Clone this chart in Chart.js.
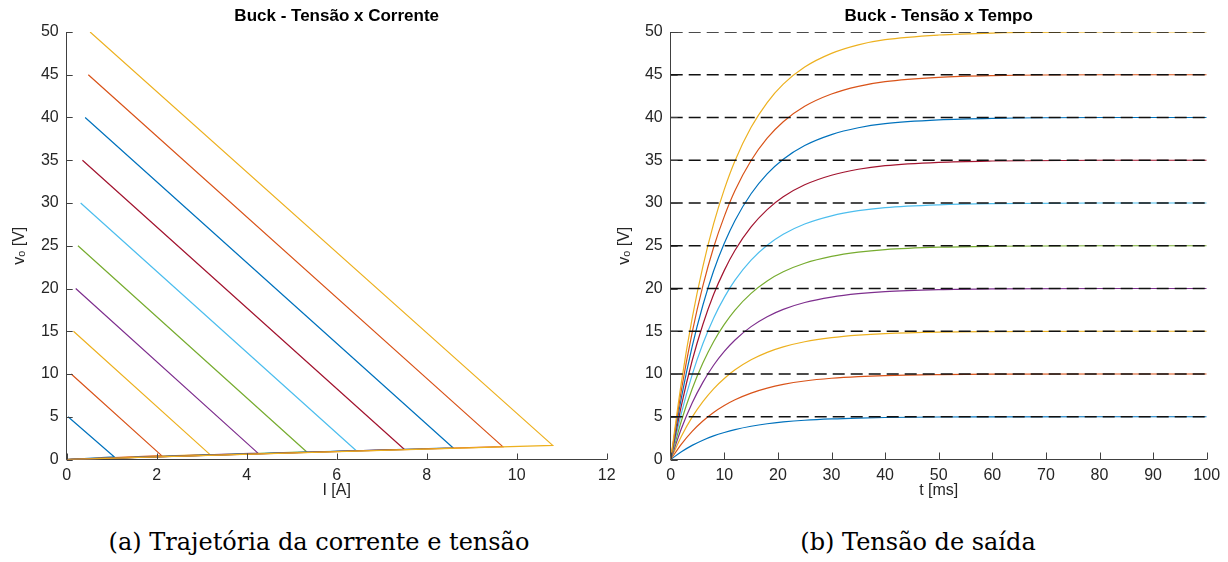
<!DOCTYPE html>
<html>
<head>
<meta charset="utf-8">
<script src="https://cdn.jsdelivr.net/npm/chart.js@4"></script>
<style>
  body { margin: 0; background: #fff; width: 1228px; height: 562px; position: relative; overflow: hidden; }
  .box { position: absolute; top: 0; height: 510px; }
  .cap { position: absolute; top: 528px; font: 24px "DejaVu Serif", serif; color: #000; text-align: center; width: 614px; }
</style>
</head>
<body>
<div class="box" style="left:0"><canvas id="chartIV" width="620" height="510"></canvas></div>
<div class="box" style="left:614px"><canvas id="chartVT" width="614" height="510"></canvas></div>
<div class="cap" style="left:12px">(a) Trajetória da corrente e tensão</div>
<div class="cap" style="left:611px">(b) Tensão de saída</div>
<script>
// referencias de tensao (V)
const levels = [5, 10, 15, 20, 25, 30, 35, 40, 45, 50];
// corrente no fim da trajetoria (em regime) e pico de corrente (a)
const iFinal = [0.03, 0.10, 0.15, 0.20, 0.25, 0.31, 0.35, 0.41, 0.48, 0.52];
const iPeak  = [1.06, 2.11, 3.18, 4.25, 5.33, 6.43, 7.50, 8.59, 9.69, 10.80];
const vPeak  = [0.30, 0.45, 0.60, 0.75, 0.90, 1.05, 1.20, 1.35, 1.50, 1.65];

// tempo (ms) e tensao de saida (b)
const tMs = [0, 2, 4, 6, 8, 10, 12, 15, 18, 21, 25, 30, 35, 40, 50, 60, 80, 100];
const vo5  = [0, 0.90, 1.65, 2.26, 2.76, 3.16, 3.50, 3.89, 4.18, 4.39, 4.59, 4.75, 4.85, 4.91, 4.97, 4.99, 5, 5];
const vo10 = [0, 1.81, 3.30, 4.51, 5.51, 6.32, 6.99, 7.77, 8.35, 8.78, 9.18, 9.50, 9.70, 9.82, 9.93, 9.98, 10, 10];
const vo15 = [0, 2.72, 4.95, 6.77, 8.27, 9.48, 10.49, 11.66, 12.53, 13.17, 13.77, 14.25, 14.55, 14.73, 14.90, 14.96, 15, 15];
const vo20 = [0, 3.62, 6.60, 9.02, 11.02, 12.64, 13.98, 15.54, 16.70, 17.56, 18.36, 19.00, 19.40, 19.64, 19.86, 19.95, 20, 20];
const vo25 = [0, 4.53, 8.25, 11.28, 13.78, 15.80, 17.48, 19.43, 20.88, 21.95, 22.95, 23.75, 24.25, 24.55, 24.83, 24.94, 25, 25];
const vo30 = [0, 5.43, 9.90, 13.53, 16.53, 18.96, 20.97, 23.31, 25.05, 26.34, 27.54, 28.50, 29.10, 29.46, 29.79, 29.93, 30, 30];
const vo35 = [0, 6.34, 11.55, 15.79, 19.29, 22.12, 24.47, 27.20, 29.23, 30.73, 32.13, 33.25, 33.95, 34.37, 34.76, 34.91, 35, 35];
const vo40 = [0, 7.24, 13.20, 18.04, 22.04, 25.28, 27.96, 31.08, 33.40, 35.12, 36.72, 38.00, 38.80, 39.28, 39.72, 39.90, 40, 40];
const vo45 = [0, 8.15, 14.85, 20.30, 24.80, 28.44, 31.46, 34.97, 37.58, 39.51, 41.31, 42.75, 43.65, 44.19, 44.69, 44.89, 45, 45];
const vo50 = [0, 9.05, 16.50, 22.55, 27.55, 31.60, 34.95, 38.85, 41.75, 43.90, 45.90, 47.50, 48.50, 49.10, 49.65, 49.88, 50, 50];
const voutAll = [vo5, vo10, vo15, vo20, vo25, vo30, vo35, vo40, vo45, vo50];

const cores = ['#0072BD', '#D95319', '#EDB120', '#7E2F8E', '#77AC30', '#4DBEEE', '#A2142F', '#0072BD', '#D95319', '#EDB120'];
const txt = '#262626';
const fam = '"Liberation Sans", Arial, sans-serif';

// ticks para dentro, estilo matlab
function innerTicks(len) {
    return {
        id: 'innerTicks',
        afterDatasetsDraw(chart) {
            const c = chart.ctx, a = chart.chartArea;
            c.save();
            c.strokeStyle = '#404040';
            c.lineWidth = 1;
            c.beginPath();
            chart.scales.x.ticks.forEach(t => {
                const px = Math.round(chart.scales.x.getPixelForValue(t.value)) + 0.5;
                c.moveTo(px, a.bottom);
                c.lineTo(px, a.bottom - len);
            });
            chart.scales.y.ticks.forEach(t => {
                const py = Math.round(chart.scales.y.getPixelForValue(t.value)) + 0.5;
                c.moveTo(a.left, py);
                c.lineTo(a.left + len, py);
            });
            c.stroke();
            c.restore();
        }
    };
}

function eixos(xMax, xStep, xTitle, yWidth, yTitlePad) {
    return {
        x: {
            type: 'linear', min: 0, max: xMax,
            ticks: { stepSize: xStep, color: txt, padding: 6, font: { family: fam, size: 16 } },
            grid: { drawOnChartArea: false, drawTicks: false },
            border: { color: '#404040', width: 1 },
            title: { display: true, text: xTitle, color: txt, font: { family: fam, size: 16 }, padding: { top: 0, bottom: 9.4 } },
            afterFit: s => { s.height = 50.5; s.paddingLeft = 0; s.paddingRight = 0; }
        },
        y: {
            type: 'linear', min: 0, max: 50,
            ticks: { stepSize: 5, color: txt, padding: 8, font: { family: fam, size: 16 } },
            grid: { drawOnChartArea: false, drawTicks: false },
            border: { color: '#404040', width: 1 },
            title: { display: true, text: 'vₒ [V]', color: txt, font: { family: fam, size: 16 }, padding: { top: yTitlePad, bottom: 0 } },
            afterFit: s => { s.width = yWidth; s.paddingTop = 0; s.paddingBottom = 0; }
        }
    };
}

function titulo(texto) {
    return {
        display: true, text: texto, color: '#000', fullSize: false,
        font: { family: fam, size: 17, weight: 'bold' },
        padding: { top: 6, bottom: 5.6 }
    };
}

// grafico (a): trajetoria corrente x tensao
new Chart(document.getElementById('chartIV'), {
    type: 'line',
    data: {
        datasets: levels.map((v, k) => ({
            data: [{ x: 0, y: 0 }, { x: iPeak[k], y: vPeak[k] }, { x: iFinal[k], y: v }],
            borderColor: cores[k],
            borderWidth: 1.2,
            pointRadius: 0,
            order: 10 - k
        }))
    },
    options: {
        responsive: false, animation: false,
        layout: { padding: { left: 0, right: 13.3, top: 0, bottom: 0 } },
        plugins: { legend: { display: false }, tooltip: { enabled: false }, title: titulo('Buck - Tensão x Corrente') },
        scales: eixos(12, 2, 'I [A]', 66.7, 10.4)
    },
    plugins: [innerTicks(6)]
});

// grafico (b): tensao x tempo
const refs = levels.map(v => ({
    data: [{ x: 0, y: v }, { x: 100, y: v }],
    borderColor: '#111',
    borderWidth: 1.3,
    borderDash: [12, 6],
    pointRadius: 0,
    order: -1
}));
const curvas = voutAll.map((serie, k) => ({
    data: serie.map((v, i) => ({ x: tMs[i], y: v })),
    borderColor: cores[k],
    borderWidth: 1.2,
    pointRadius: 0,
    cubicInterpolationMode: 'monotone',
    order: 10 - k
}));

new Chart(document.getElementById('chartVT'), {
    type: 'line',
    data: { datasets: curvas.concat(refs) },
    options: {
        responsive: false, animation: false,
        layout: { padding: { left: 0, right: 21.3, top: 0, bottom: 0 } },
        plugins: { legend: { display: false }, tooltip: { enabled: false }, title: titulo('Buck - Tensão x Tempo') },
        scales: eixos(100, 10, 't [ms]', 56.7, 1.4)
    },
    plugins: [innerTicks(7)]
});
</script>
</body>
</html>
